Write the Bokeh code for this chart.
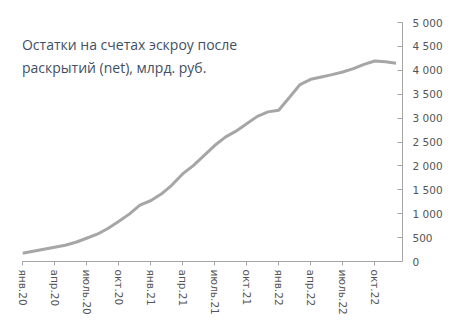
from bokeh.plotting import figure
from bokeh.models import Range1d, FixedTicker, Label, CustomJSTickFormatter
from bokeh.embed import file_html
from bokeh.resources import INLINE

# Monthly data Jan 2020 .. Dec 2022
months = list(range(36))
values = [172, 214, 256, 298, 340, 403, 487, 571, 690, 836, 991, 1180,
          1271, 1411, 1600, 1832, 2006, 2216, 2426, 2601, 2727, 2882, 3036, 3130,
          3165, 3431, 3702, 3812, 3861, 3910, 3965, 4035, 4125, 4194, 4181, 4146]
tick_pos = [0, 3, 6, 9, 12, 15, 18, 21, 24, 27, 30, 33]
tick_labels = ["янв.20", "апр.20", "июль.20", "окт.20", "янв.21", "апр.21",
               "июль.21", "окт.21", "янв.22", "апр.22", "июль.22", "окт.22"]
y_ticks = [0, 500, 1000, 1500, 2000, 2500, 3000, 3500, 4000, 4500, 5000]
title_lines = ["Остатки на счетах эскроу после", "раскрытий (net), млрд. руб."]

p = figure(width=464, height=336, output_backend="svg", toolbar_location=None,
           x_range=Range1d(0, 35.6), y_range=Range1d(0, 5000),
           min_border_left=22, min_border_right=62, min_border_top=22, min_border_bottom=75,
           y_axis_location="right")
p.outline_line_color = None
p.grid.visible = False
p.background_fill_color = "white"
p.border_fill_color = "white"

p.line(months, values, line_color="#A6A6A6", line_width=3)

axis_color = "#A6A6A6"
label_color = "#555555"

xa = p.xaxis[0]
xa.ticker = FixedTicker(ticks=tick_pos)
xa.major_label_overrides = {t: l for t, l in zip(tick_pos, tick_labels)}
xa.major_label_orientation = "vertical"
xa.axis_line_color = axis_color
xa.major_tick_line_color = axis_color
xa.major_tick_out = 4
xa.major_tick_in = 0
xa.minor_tick_line_color = None
xa.major_label_text_font = "DejaVu Sans"
xa.major_label_text_font_size = "10.5px"
xa.major_label_text_color = label_color
xa.major_label_standoff = 4

ya = p.yaxis[0]
ya.ticker = FixedTicker(ticks=y_ticks)
ya.formatter = CustomJSTickFormatter(code="return tick.toString().replace(/\\B(?=(\\d{3})+(?!\\d))/g, ' ');")
ya.axis_line_color = axis_color
ya.major_tick_line_color = axis_color
ya.major_tick_out = 0
ya.major_tick_in = 5
ya.minor_tick_line_color = None
ya.major_label_text_font = "DejaVu Sans"
ya.major_label_text_font_size = "10.5px"
ya.major_label_text_color = label_color
ya.major_label_standoff = 10

for t, yv in zip(title_lines, [4537, 4054]):
    p.add_layout(Label(x=-0.05, y=yv, text=t, text_font="Open Sans", text_font_size="14px",
                       text_color="#3F4F66", text_baseline="middle", text_align="left"))

open("out.html", "w").write(file_html(p, INLINE))
